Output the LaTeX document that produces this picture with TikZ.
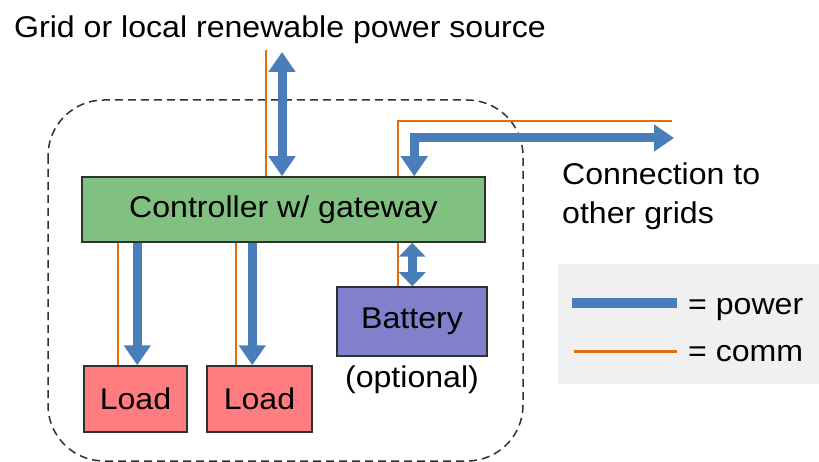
\documentclass[tikz,border=0pt]{standalone}
\usepackage{fontspec}
\setmainfont[FakeStretch=1.07]{Liberation Sans}
\usetikzlibrary{arrows.meta,calc}
\definecolor{pw}{HTML}{4A7EBB}
\definecolor{cm}{HTML}{E46C0A}
\definecolor{grn}{HTML}{80C080}
\definecolor{ld}{HTML}{FF7C80}
\definecolor{bat}{HTML}{8080CC}
\definecolor{edge}{HTML}{303030}
\definecolor{lgbg}{HTML}{F0F0F0}
\begin{document}
\begin{tikzpicture}[x=1pt,y=-1pt,
  txt/.style={inner sep=0pt, font=\fontsize{30}{39}\selectfont},
  box/.style={txt, draw=edge, line width=1.5pt},
  pwr/.style={draw=pw, line width=9pt},
  bihead/.style={{Triangle[width=26pt,length=20pt]}-{Triangle[width=26pt,length=20pt]}},
  onehead/.style={-{Triangle[width=26pt,length=20pt]}},
  smallbi/.style={{Triangle[width=26pt,length=14pt]}-{Triangle[width=26pt,length=14pt]}},
  comm/.style={draw=cm, line width=2.2pt}]
\useasboundingbox (0,0) rectangle (819,462);
\clip (0,0) rectangle (819,462);
\fill[white] (0,0) rectangle (819,462);

% boundary of the microgrid
\draw[edge, line width=1.5pt, dash pattern=on 8pt off 5pt, rounded corners=56pt] (48,100) rectangle (523,461);

% texts
\node[txt, anchor=base] (title) at (280,38) {Grid or local renewable power source};
\node[txt, anchor=west, align=left] (conn) at (562,196) {Connection to\\other grids};

% boxes
\node[box, fill=grn, minimum width=403pt, minimum height=65pt] (ctrl) at (283.5,209.5) {Controller w/ gateway};
\node[box, fill=ld, minimum width=103pt, minimum height=66pt] (load1) at (135.5,399) {Load};
\node[box, fill=ld, minimum width=105pt, minimum height=66pt] (load2) at (259.5,399) {Load};
\node[box, fill=bat, minimum width=150pt, minimum height=69pt] (bat) at (412,321.5) {Battery};
\node[txt, anchor=base] (opt) at (412,387) {(optional)};

% source connection
\coordinate (srcC) at (266,50);
\coordinate (srcP) at (282,52);
\draw[comm] (srcC) -- (srcC |- ctrl.north);
\draw[pwr, bihead] (srcP) -- (srcP |- ctrl.north);

% other grids connection
\coordinate (gridC) at (672,121);
\coordinate (gridP) at (674,138);
\draw[comm] ([xshift=317pt]ctrl.north west) |- (gridC);
\draw[pwr, bihead] ([xshift=333pt]ctrl.north west) |- (gridP);

% loads
\coordinate (l1c) at ([xshift=35pt]load1.north west);
\coordinate (l1p) at ([xshift=54pt]load1.north west);
\coordinate (l2c) at ([xshift=30pt]load2.north west);
\coordinate (l2p) at ([xshift=46pt]load2.north west);
\draw[comm] (l1c |- ctrl.south) -- (l1c);
\draw[pwr, onehead] (l1p |- ctrl.south) -- (l1p);
\draw[comm] (l2c |- ctrl.south) -- (l2c);
\draw[pwr, onehead] (l2p |- ctrl.south) -- (l2p);

% battery
\coordinate (bc) at ([xshift=62pt]bat.north west);
\coordinate (bp) at ([xshift=76pt]bat.north west);
\draw[comm] (bc |- ctrl.south) -- (bc);
\draw[pwr, smallbi] (bp |- ctrl.south) -- (bp);

% legend
\node[fill=lgbg, inner sep=0pt, minimum width=261pt, minimum height=120pt] (legend) at (688.5,324) {};
\coordinate (lpa) at (572,303);
\coordinate (lpb) at (677,303);
\coordinate (lca) at (574,351);
\coordinate (lcb) at (677,351);
\draw[draw=pw, line width=10pt] (lpa) -- (lpb);
\draw[draw=cm, line width=3pt] (lca) -- (lcb);
\node[txt, anchor=base west] (lp) at (688,314) {= power};
\node[txt, anchor=base west] (lc) at (688,361) {= comm};
\end{tikzpicture}
\end{document}
